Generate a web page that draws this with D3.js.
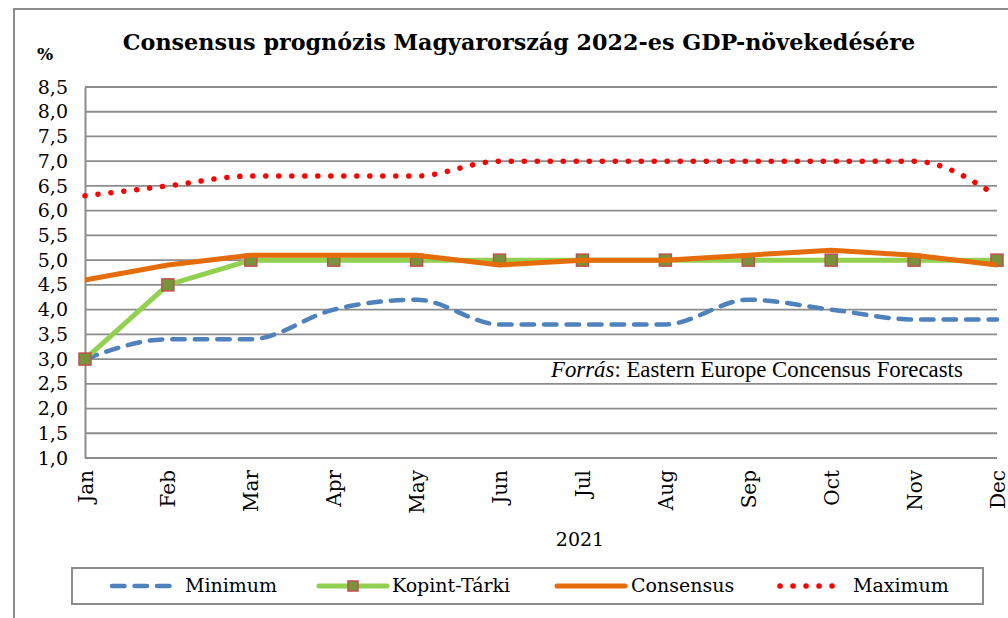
<!DOCTYPE html>
<html>
<head>
<meta charset="utf-8">
<script src="https://cdn.jsdelivr.net/npm/d3@7"></script>
<style>
  body { margin: 0; background: #fff; }
  svg { display: block; }
</style>
</head>
<body>
<div id="chart"></div>
<script>
// data
const months = ["Jan", "Feb", "Mar", "Apr", "May", "Jun", "Jul", "Aug", "Sep", "Oct", "Nov", "Dec"];
const minimum = [3.0, 3.4, 3.4, 4.0, 4.2, 3.7, 3.7, 3.7, 4.2, 4.0, 3.8, 3.8];
const kopint = [3.0, 4.5, 5.0, 5.0, 5.0, 5.0, 5.0, 5.0, 5.0, 5.0, 5.0, 5.0];
const consensus = [4.6, 4.9, 5.1, 5.1, 5.1, 4.9, 5.0, 5.0, 5.1, 5.2, 5.1, 4.9];
const maximum = [6.3, 6.5, 6.7, 6.7, 6.7, 7.0, 7.0, 7.0, 7.0, 7.0, 7.0, 6.3];
const yTicks = [1.0, 1.5, 2.0, 2.5, 3.0, 3.5, 4.0, 4.5, 5.0, 5.5, 6.0, 6.5, 7.0, 7.5, 8.0, 8.5];
const legendNames = ["Minimum", "Kopint-Tárki", "Consensus", "Maximum"];

const width = 1008, height = 618;
const serif = "'DejaVu Serif', serif";
const gridColor = "#8c8c8c";

const svg = d3.select("#chart")
  .append("svg")
  .attr("width", width)
  .attr("height", height);

// outer chart frame (only top and left edges are visible)
svg.append("path")
  .attr("d", `M14,${height} L14,9 L${width},9`)
  .attr("fill", "none")
  .attr("stroke", gridColor)
  .attr("stroke-width", 2);

// scales
const xScale = d3.scalePoint().domain(months).range([85, 997]);
const yScale = d3.scaleLinear().domain([1, 8.5]).range([458, 87]);

const huFormat = d3.formatLocale({decimal: ",", thousands: " ", grouping: [3], currency: ["", ""]}).format(".1f");

// gridlines
svg.append("g")
  .selectAll("line")
  .data(yTicks)
  .join("line")
  .attr("x1", 85)
  .attr("x2", 997)
  .attr("y1", d => yScale(d))
  .attr("y2", d => yScale(d))
  .attr("stroke", gridColor)
  .attr("stroke-width", 1.8);

// y axis
const yAxis = svg.append("g")
  .attr("transform", "translate(85,0)")
  .call(d3.axisLeft(yScale).tickValues(yTicks).tickFormat(huFormat).tickSize(0).tickPadding(17));
yAxis.select(".domain").attr("stroke", gridColor).attr("stroke-width", 2);
yAxis.selectAll("text")
  .attr("font-family", serif)
  .attr("font-size", 19)
  .attr("fill", "#000");

// x axis
const xAxis = svg.append("g")
  .attr("transform", `translate(0,${yScale(1)})`)
  .call(d3.axisBottom(xScale).tickSize(0));
xAxis.select(".domain").remove();
xAxis.selectAll("text")
  .attr("font-family", serif)
  .attr("font-size", 20)
  .attr("fill", "#000")
  .attr("text-anchor", "end")
  .attr("transform", "rotate(-90)")
  .attr("x", -12)
  .attr("y", 0)
  .attr("dy", "0.35em");

// titles
const title = svg.append("text")
  .attr("x", 519)
  .attr("y", 50)
  .attr("text-anchor", "middle")
  .attr("font-family", serif)
  .attr("font-weight", "bold")
  .attr("font-size", 20)
  .text("Consensus prognózis Magyarország 2022-es GDP-növekedésére");
let tw = title.node().getComputedTextLength();
title.attr("font-size", 20 * 793 / tw);

svg.append("text")
  .attr("x", 37)
  .attr("y", 60)
  .attr("font-family", serif)
  .attr("font-weight", "bold")
  .attr("font-size", 17)
  .text("%");

svg.append("text")
  .attr("x", 580)
  .attr("y", 546)
  .attr("text-anchor", "middle")
  .attr("font-family", serif)
  .attr("font-size", 19)
  .text("2021");

// source note
const src = svg.append("text")
  .attr("x", 551)
  .attr("y", 377)
  .attr("font-family", "'Liberation Serif', serif")
  .attr("font-size", 20);
src.append("tspan").attr("font-style", "italic").text("Forrás");
src.append("tspan").text(": Eastern Europe Concensus Forecasts");
let sw = src.node().getComputedTextLength();
src.attr("font-size", 20 * 412 / sw);

// series
const smooth = d3.line()
  .x((d, i) => xScale(months[i]))
  .y(d => yScale(d))
  .curve(d3.curveMonotoneX);
const straight = d3.line()
  .x((d, i) => xScale(months[i]))
  .y(d => yScale(d));

const styles = {
  min: {color: "#4f81bd", width: 4.5, dash: "12.5,10", cap: "round"},
  kop: {color: "#92d050", width: 5, dash: null, cap: "butt"},
  con: {color: "#e46c0a", width: 5, dash: null, cap: "butt"},
  max: {color: "#ff0000", width: 5.5, dash: "0.1,12.9", cap: "round"}
};

function drawLine(data, gen, s) {
  svg.append("path")
    .datum(data)
    .attr("d", gen)
    .attr("fill", "none")
    .attr("stroke", s.color)
    .attr("stroke-width", s.width)
    .attr("stroke-dasharray", s.dash)
    .attr("stroke-linecap", s.cap)
    .attr("stroke-linejoin", "round");
}

drawLine(minimum, smooth, styles.min);
drawLine(kopint, straight, styles.kop);

svg.append("g")
  .selectAll("rect")
  .data(kopint)
  .join("rect")
  .attr("x", (d, i) => xScale(months[i]) - 6)
  .attr("y", d => yScale(d) - 6)
  .attr("width", 12)
  .attr("height", 12)
  .attr("fill", "#77933c")
  .attr("stroke", "#c0504d")
  .attr("stroke-width", 1.5);

drawLine(consensus, straight, styles.con);
drawLine(maximum, smooth, styles.max);

// legend
const legend = svg.append("g");
legend.append("rect")
  .attr("x", 72)
  .attr("y", 568)
  .attr("width", 911)
  .attr("height", 36)
  .attr("fill", "#fff")
  .attr("stroke", gridColor)
  .attr("stroke-width", 2);

const legendItems = [
  {name: legendNames[0], s: styles.min, x1: 112, x2: 171, tx: 185},
  {name: legendNames[1], s: styles.kop, x1: 319, x2: 387, tx: 392, marker: true},
  {name: legendNames[2], s: styles.con, x1: 557, x2: 625, tx: 631},
  {name: legendNames[3], s: styles.max, x1: 780, x2: 834, tx: 853}
];

legendItems.forEach(item => {
  legend.append("line")
    .attr("x1", item.x1)
    .attr("x2", item.x2)
    .attr("y1", 586)
    .attr("y2", 586)
    .attr("stroke", item.s.color)
    .attr("stroke-width", item.s.width)
    .attr("stroke-dasharray", item.s.dash)
    .attr("stroke-linecap", item.s.cap === "butt" ? "round" : item.s.cap);
  if (item.marker) {
    legend.append("rect")
      .attr("x", (item.x1 + item.x2) / 2 - 5)
      .attr("y", 581)
      .attr("width", 10)
      .attr("height", 10)
      .attr("fill", "#77933c")
      .attr("stroke", "#c0504d")
      .attr("stroke-width", 1.5);
  }
  legend.append("text")
    .attr("x", item.tx)
    .attr("y", 592)
    .attr("font-family", serif)
    .attr("font-size", 19)
    .text(item.name);
});
</script>
</body>
</html>
